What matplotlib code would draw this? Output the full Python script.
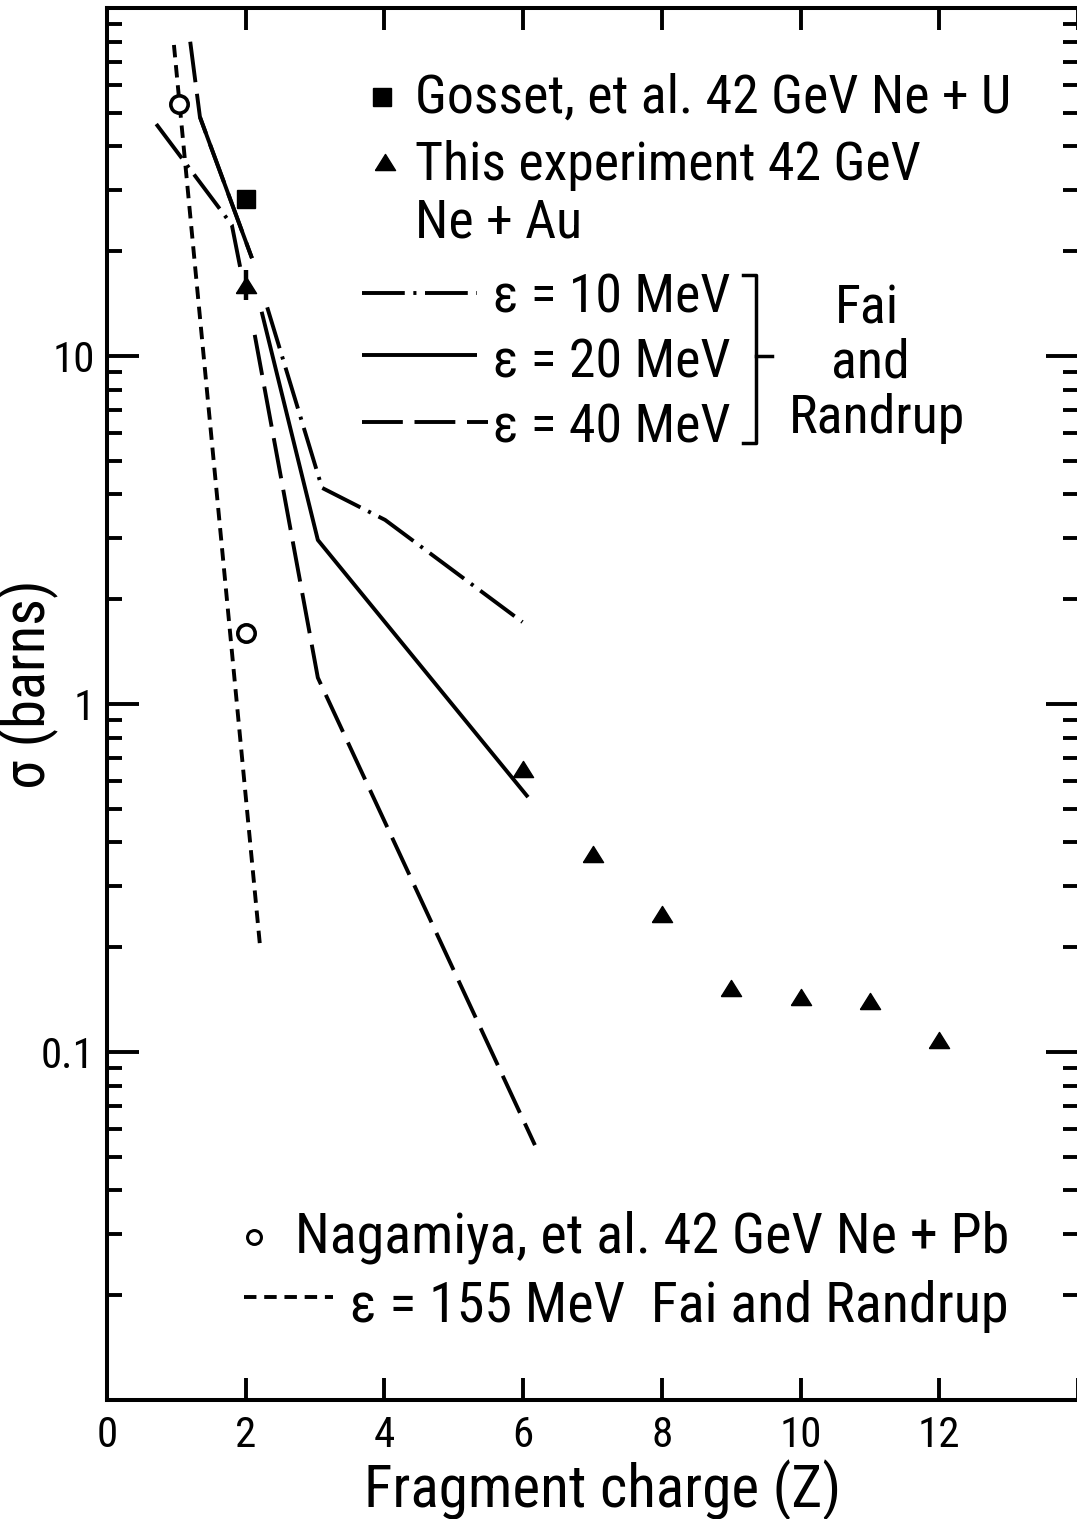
import numpy as np
import matplotlib
matplotlib.use("Agg")
import matplotlib.pyplot as plt
from matplotlib import font_manager as fm
from matplotlib.ticker import LogLocator, FuncFormatter, FixedLocator, NullLocator

# narrow sans for the lettering, DejaVu as glyph fallback
def pick_narrow():
    fonts = fm.fontManager.ttflist
    for name in ['Liberation Sans Narrow', 'Roboto Condensed', 'Open Sans Condensed',
                 'Noto Sans Condensed', 'DejaVu Sans Condensed']:
        for f in fonts:
            if f.name == name and f.style == 'normal' and f.weight in (400, 'normal', 'regular'):
                return f.name, str(f.stretch)
    for f in fonts:
        if (str(f.stretch) in ('condensed', 'semi-condensed') and f.style == 'normal'
                and f.weight in (400, 'normal', 'regular')):
            return f.name, str(f.stretch)
    return 'DejaVu Sans', 'normal'

fam, stretch = pick_narrow()
plt.rcParams['font.family'] = [fam, 'DejaVu Sans']
plt.rcParams['font.stretch'] = stretch

nan = np.nan

# measured cross sections (barns) vs fragment charge Z
gosset_z = [2.0]
gosset_sigma = [28.3]

expt_z = [2, 6, 7, 8, 9, 10, 11, 12]
expt_sigma = [16.0, 0.65, 0.37, 0.25, 0.153, 0.144, 0.140, 0.108]
expt_err_lo = [1.5]
expt_err_hi = [1.7]

nagamiya_z = [1.04, 2.0]
nagamiya_sigma = [53.0, 1.6]

# Fai and Randrup calculations (nan = break around the Z=2 point)
eps10_z = [0.71, 1.80, 1.92, nan, 2.31, 3.10, 4.01, 5.99]
eps10_sigma = [46.4, 23.8, 18.0, nan, 13.8, 4.18, 3.38, 1.72]

eps20_z = [1.34, 2.09, nan, 2.23, 3.04, 6.07]
eps20_sigma = [48.6, 19.1, nan, 13.4, 2.96, 0.54]

eps40_z = [1.20, 1.34, 2.09, nan, 2.13, 3.04, 6.17]
eps40_sigma = [80.0, 48.6, 19.1, nan, 11.5, 1.19, 0.054]

eps155_z = [0.965, 2.205]
eps155_sigma = [78.3, 0.203]

xticks = [0, 2, 4, 6, 8, 10, 12, 14]
ylabels = {0.1: "0.1", 1.0: "1", 10.0: "10"}

LW = 2.8
st10 = dict(color='k', lw=LW, dashes=(11, 2.2, 0.8, 2.2), dash_capstyle='butt')
st20 = dict(color='k', lw=LW, solid_capstyle='butt')
st40 = dict(color='k', lw=LW, dashes=(10.5, 3), dash_capstyle='butt')
st155 = dict(color='k', lw=LW, dashes=(3.2, 2.0), dash_capstyle='butt')

tri = [(-1, -0.8), (1, -0.8), (0, 0.8), (-1, -0.8)]

fig = plt.figure(figsize=(10.77, 15.19), dpi=100)
ax = fig.add_axes([107 / 1077, 119 / 1519, 971 / 1077, 1392 / 1519])
ax.set_yscale('log')
ax.set_xlim(0, 14)
ax.set_ylim(0.01, 100)
renderer = fig.canvas.get_renderer()


def fit(t, px, along='width'):
    """scale a text's font size so it spans px pixels"""
    ext = t.get_window_extent(renderer)
    cur = ext.width if along == 'width' else ext.height
    t.set_fontsize(t.get_fontsize() * px / cur)
    return t


ax.plot(eps155_z, eps155_sigma, **st155)
ax.plot(eps40_z, eps40_sigma, **st40)
ax.plot(eps10_z, eps10_sigma, **st10)
ax.plot(eps20_z, eps20_sigma, **st20)

ax.errorbar(expt_z[:1], expt_sigma[:1], yerr=[expt_err_lo, expt_err_hi],
            fmt='none', ecolor='k', elinewidth=3.2, capsize=0, zorder=4)
ax.plot(expt_z, expt_sigma, ls='none', marker=tri, ms=14.5, color='k', zorder=5)
ax.plot(gosset_z, gosset_sigma, ls='none', marker='s', ms=13, color='k', zorder=5)
ax.plot(nagamiya_z, nagamiya_sigma, ls='none', marker='o', ms=12.5, mfc='white',
        mec='k', mew=2.6, zorder=5)

# axes styling
for side in ('left', 'bottom', 'top'):
    ax.spines[side].set_linewidth(2.9)
ax.spines['right'].set_visible(False)

ax.xaxis.set_major_locator(FixedLocator(xticks))
ax.xaxis.set_minor_locator(NullLocator())
ax.xaxis.set_major_formatter(FuncFormatter(lambda v, p: "" if v > 13 else "%d" % v))
ax.yaxis.set_major_locator(LogLocator(base=10))
ax.yaxis.set_minor_locator(LogLocator(base=10, subs=np.arange(2, 10)))
ax.yaxis.set_minor_formatter(FuncFormatter(lambda v, p: ""))
ax.yaxis.set_major_formatter(FuncFormatter(
    lambda v, p: next((s for k, s in ylabels.items() if abs(v - k) / k < 1e-6), "")))

ax.tick_params(which='both', direction='in', top=True, right=True, width=2.8,
               labelsize=31)
ax.xaxis.set_tick_params(which='major', length=16, pad=11)
ax.yaxis.set_tick_params(which='major', length=23, pad=9)
ax.yaxis.set_tick_params(which='minor', length=11)

xl = ax.set_xlabel("Fragment charge (Z)", fontsize=30)
fit(xl, 477)
ax.xaxis.set_label_coords(0.51, -0.043)
yl = ax.set_ylabel("σ (barns)", fontsize=30)
fit(yl, 210, along='height')
ax.yaxis.set_label_coords(-0.049, 0.514)

T = ax.transAxes

# one size for all key lettering
probe = fig.text(0, 0, "Gosset, et al. 42 GeV Ne + U", fontsize=30)
key_fs = fit(probe, 595).get_fontsize()
probe.remove()


def key_text(x, y, s, ha='left', width=None):
    t = ax.text(x, y, s, transform=T, fontsize=key_fs, va='baseline', ha=ha)
    if width:
        fit(t, width)
    return t


# key, upper block
ax.plot([0.2832], [0.9360], transform=T, marker='s', ms=13, color='k', clip_on=False)
key_text(0.3172, 0.9246, "Gosset, et al. 42 GeV Ne + U")
ax.plot([0.2863], [0.8894], transform=T, marker=tri, ms=14.5, color='k', clip_on=False)
key_text(0.3172, 0.8764, "This experiment 42 GeV")
key_text(0.3172, 0.8348, "Ne + Au")

ax.plot([0.2626, 0.3811], [0.7953, 0.7953], transform=T, **st10)
ax.plot([0.2626, 0.3811], [0.7507, 0.7507], transform=T, **st20)
ax.plot([0.2626, 0.3924], [0.7026, 0.7026], transform=T, **st40)
key_text(0.3975, 0.7816, "ε = 10 MeV")
key_text(0.3975, 0.7349, "ε = 20 MeV")
key_text(0.3975, 0.6882, "ε = 40 MeV")

ax.plot([0.6550, 0.6684, 0.6684, 0.6550], [0.8082, 0.8082, 0.6875, 0.6875],
        transform=T, color='k', lw=2.5)
ax.plot([0.6684, 0.6849], [0.7500, 0.7500], transform=T, color='k', lw=2.5)
key_text(0.7827, 0.7737, "Fai", ha='center')
key_text(0.7858, 0.7342, "and", ha='center')
key_text(0.7930, 0.6947, "Randrup", ha='center')

# key, lower block
ax.plot([0.1514], [0.1171], transform=T, marker='o', ms=10, mfc='white', mec='k', mew=2.2)
key_text(0.1936, 0.1063, "Nagamiya, et al. 42 GeV Ne + Pb", width=716)
ax.plot([0.1411, 0.2327], [0.0740, 0.0740], transform=T, **st155)
key_text(0.2503, 0.0560, "ε = 155 MeV  Fai and Randrup", width=660)

fig.savefig("out.png", dpi=100)
